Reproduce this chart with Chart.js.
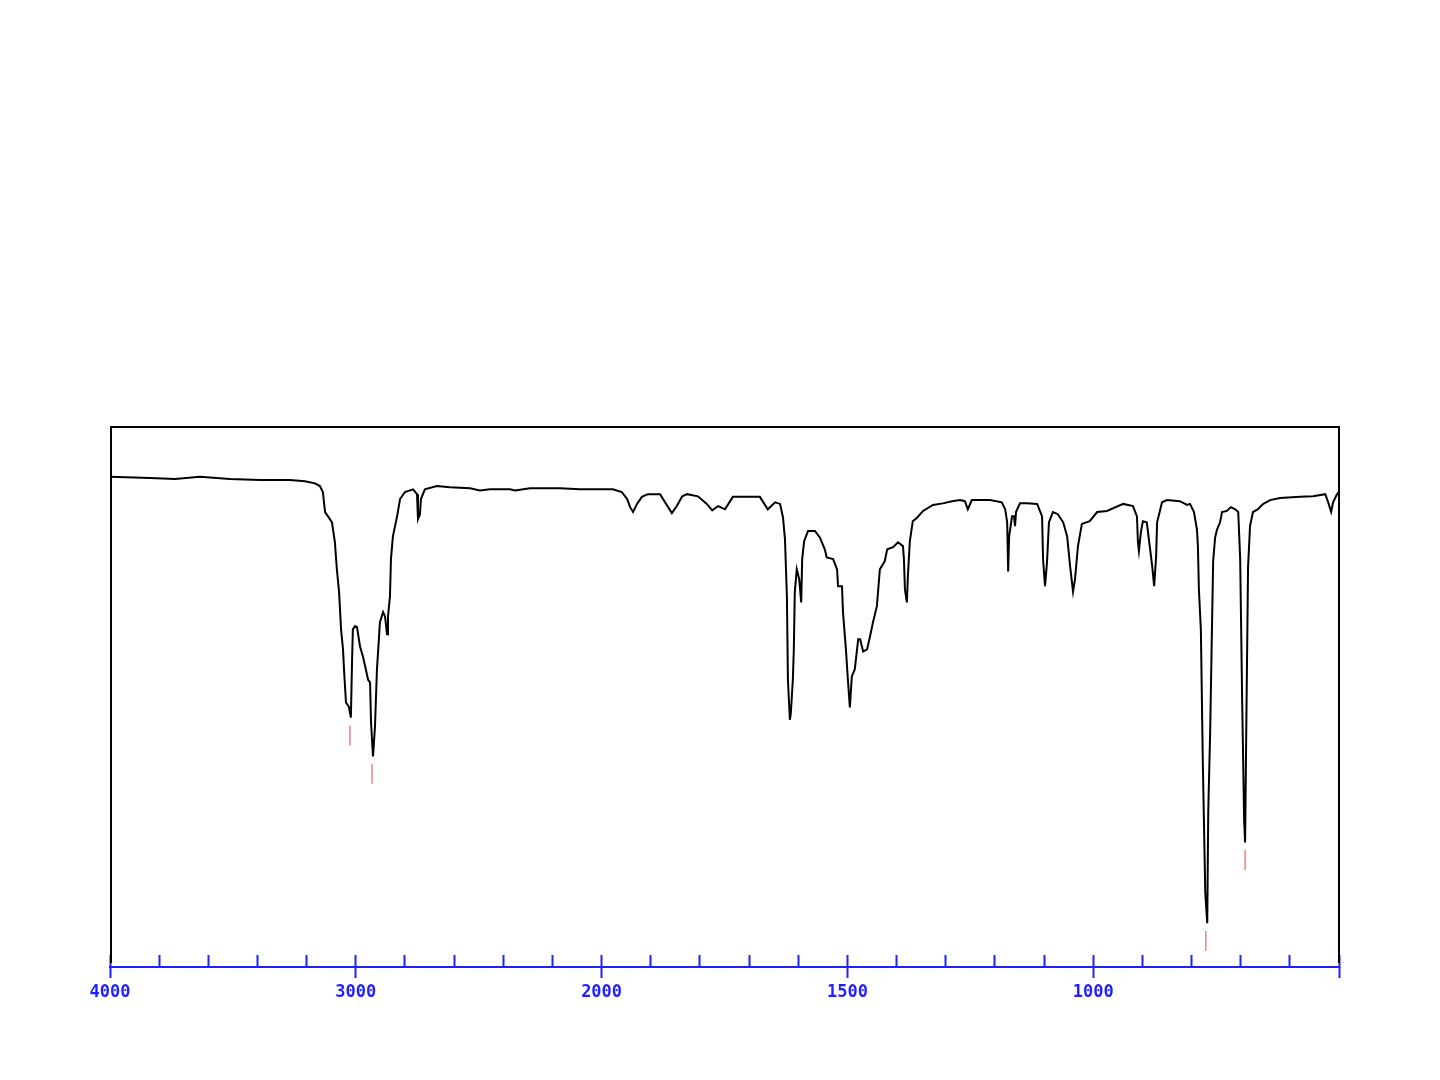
<!DOCTYPE html>
<html>
<head>
<meta charset="utf-8">
<script src="https://cdn.jsdelivr.net/npm/chart.js@4/dist/chart.umd.min.js"></script>
<style>
  html, body { margin: 0; padding: 0; background: #ffffff; }
  #wrap { width: 1440px; height: 1080px; }
</style>
</head>
<body>
<div id="wrap"><canvas id="c" width="1440" height="1080"></canvas></div>
<script>
// ---- Data (wavenumber in cm-1, transmittance in %) ----
const wavenumbers = [
  4000, 3837, 3736, 3634, 3512, 3390, 3268, 3207, 3166, 3146,
  3134, 3125, 3113, 3097, 3085, 3077, 3068, 3060, 3052, 3048,
  3040, 3028, 3020, 3016, 3012, 3003, 2995, 2983, 2971, 2959,
  2950, 2942, 2938, 2930, 2922, 2914, 2906, 2902, 2889, 2881,
  2873, 2869, 2861, 2857, 2849, 2832, 2820, 2800, 2767, 2751,
  2747, 2739, 2735, 2719, 2670, 2617, 2535, 2495, 2454, 2373,
  2352, 2291, 2169, 2088, 2000, 1977, 1959, 1948, 1942, 1936,
  1928, 1918, 1906, 1881, 1871, 1857, 1847, 1836, 1826, 1804,
  1786, 1775, 1763, 1749, 1733, 1704, 1678, 1662, 1647, 1637,
  1631, 1627, 1623, 1621, 1617, 1615, 1611, 1609, 1607, 1603,
  1598, 1594, 1592, 1588, 1580, 1566, 1556, 1546, 1542, 1529,
  1521, 1519, 1511, 1509, 1503, 1499, 1495, 1491, 1485, 1478,
  1474, 1468, 1460, 1454, 1448, 1440, 1434, 1424, 1419, 1407,
  1397, 1387, 1385, 1383, 1379, 1377, 1373, 1367, 1358, 1346,
  1326, 1306, 1287, 1271, 1261, 1255, 1247, 1210, 1186, 1179,
  1175, 1173, 1171, 1165, 1161, 1159, 1157, 1149, 1135, 1114,
  1104, 1102, 1098, 1094, 1090, 1082, 1072, 1061, 1053, 1047,
  1041, 1037, 1031, 1023, 1007, 992, 972, 939, 919, 911,
  909, 907, 903, 899, 891, 885, 880, 876, 872, 870,
  860, 850, 824, 809, 803, 795, 789, 787, 785, 781,
  777, 772, 768, 766, 762, 758, 756, 752, 748, 742,
  738, 728, 720, 711, 705, 701, 697, 693, 691, 689,
  685, 681, 675, 665, 654, 640, 620, 579, 553, 528,
  522, 516, 512, 504, 500
];
const transmittance = [
  90.6, 90.4, 90.2, 90.6, 90.2, 90.0, 90.0, 89.8, 89.4, 88.9,
  87.8, 84.1, 83.3, 82.2, 78.5, 73.5, 69.3, 62.4, 58.7, 55.0,
  48.9, 48.1, 46.1, 55.0, 62.4, 63.0, 62.8, 59.3, 57.4, 55.0,
  53.1, 52.6, 45.2, 38.9, 44.4, 55.0, 60.6, 63.7, 65.6, 64.8,
  61.5, 64.8, 68.5, 75.4, 79.6, 83.3, 86.5, 87.8, 88.3, 87.4,
  82.8, 83.7, 86.5, 88.3, 88.9, 88.7, 88.5, 88.1, 88.3, 88.3,
  88.1, 88.5, 88.5, 88.3, 88.3, 88.3, 87.8, 86.5, 85.0, 84.1,
  85.6, 86.9, 87.4, 87.4, 85.9, 83.9, 85.2, 87.0, 87.4, 87.0,
  85.6, 84.4, 85.2, 84.6, 86.9, 86.9, 86.9, 84.6, 85.9, 85.6,
  83.1, 79.1, 68.3, 53.1, 45.7, 47.0, 53.1, 58.7, 69.3, 73.5,
  71.7, 67.4, 75.4, 78.7, 80.6, 80.6, 79.4, 77.2, 75.7, 75.4,
  73.5, 70.4, 70.4, 65.6, 58.7, 53.1, 48.0, 53.7, 55.0, 60.6,
  60.6, 58.3, 58.7, 61.1, 63.7, 66.7, 73.5, 75.0, 77.2, 77.6,
  78.5, 77.8, 75.4, 69.8, 67.4, 72.2, 78.7, 82.4, 83.1, 84.3,
  85.4, 85.7, 86.1, 86.3, 86.1, 84.6, 86.3, 86.3, 85.9, 84.6,
  82.2, 73.1, 79.6, 83.3, 83.3, 81.5, 84.1, 85.7, 85.7, 85.6,
  83.3, 75.4, 70.4, 74.8, 82.2, 84.1, 83.7, 82.2, 79.6, 74.1,
  69.4, 71.7, 77.8, 81.9, 82.4, 84.1, 84.3, 85.6, 85.2, 83.3,
  78.5, 76.9, 80.4, 82.4, 82.2, 77.8, 74.1, 70.4, 75.9, 82.2,
  85.9, 86.3, 86.1, 85.4, 85.6, 84.1, 80.9, 77.8, 69.8, 62.4,
  37.8, 13.7, 8.1, 28.5, 43.9, 64.8, 75.0, 79.4, 80.9, 82.2,
  84.1, 84.3, 85.0, 84.6, 84.1, 75.4, 49.4, 27.2, 23.0, 40.7,
  73.9, 81.5, 84.1, 84.6, 85.6, 86.3, 86.7, 86.9, 87.0, 87.4,
  85.9, 84.1, 85.9, 87.4, 87.8
];
// peak markers (red ticks under the picked peaks)
const peakWavenumbers = [3024, 2934, 771, 691];
const peakMarkerLevels = [42.8, 35.7, 4.8, 19.8];
// axis labels
const labeledTicks = [4000, 3000, 2000, 1500, 1000];
const axisEnd = 500;

// ---- Axis transform: 4000-2000 compressed 2:1, 2000-500 linear ----
function wnToPos(wn) { return wn >= 2000 ? (4000 - wn) / 2 : 1000 + (2000 - wn); }
function posToWn(p) { return p <= 1000 ? 4000 - 2 * p : 3000 - p; }

const spectrumPoints = wavenumbers.map((w, i) => ({ x: wnToPos(w), y: transmittance[i] }));
const markerPoints = peakWavenumbers.map((w, i) => ({ x: wnToPos(w), y: peakMarkerLevels[i] }));

const BLUE = '#1f1fff';

const framePlugin = {
  id: 'frame',
  beforeDatasetsDraw(chart) {
    const { ctx, chartArea: a } = chart;
    ctx.save();
    ctx.strokeStyle = '#000000';
    ctx.lineWidth = 2;
    ctx.beginPath();
    ctx.moveTo(a.left + 1, a.bottom - 4);
    ctx.lineTo(a.left + 1, a.top + 1);
    ctx.lineTo(a.right, a.top + 1);
    ctx.lineTo(a.right, a.bottom - 4);
    ctx.stroke();
    ctx.restore();
  }
};

new Chart(document.getElementById('c'), {
  type: 'line',
  data: {
    datasets: [
      {
        label: 'Spectrum',
        data: spectrumPoints,
        borderColor: '#000000',
        borderWidth: 2,
        pointRadius: 0,
        tension: 0,
        fill: false
      },
      {
        label: 'Peaks',
        type: 'scatter',
        data: markerPoints,
        pointStyle: 'line',
        rotation: 90,
        radius: 10,
        borderColor: '#f08080',
        borderWidth: 1.5,
        showLine: false
      }
    ]
  },
  options: {
    responsive: false,
    animation: false,
    layout: { padding: { left: 110, right: 101, top: 426, bottom: 113 } },
    plugins: { legend: { display: false }, tooltip: { enabled: false } },
    scales: {
      y: { display: false, min: 0, max: 100 },
      x: {
        type: 'linear',
        position: { y: 0 },
        min: 0,
        max: 2500,
        ticks: { stepSize: 100, callback: () => '' },
        grid: { drawOnChartArea: false, tickLength: -13, tickColor: BLUE, tickWidth: 2 },
        border: { color: BLUE, width: 2 }
      },
      x2: {
        type: 'linear',
        axis: 'x',
        position: { y: 0 },
        min: 0,
        max: 2500,
        afterBuildTicks(scale) {
          scale.ticks = labeledTicks.concat([axisEnd]).map(w => ({ value: wnToPos(w) }));
        },
        ticks: {
          autoSkip: false,
          maxRotation: 0,
          padding: 4,
          color: BLUE,
          font: { family: 'DejaVu Sans Mono', size: 17, weight: 'bold' },
          callback: (v) => {
            const w = Math.round(posToWn(v));
            return labeledTicks.includes(w) ? String(w) : '';
          }
        },
        grid: { drawOnChartArea: false, tickLength: 11, tickColor: BLUE, tickWidth: 2 },
        border: { display: false }
      }
    }
  },
  plugins: [framePlugin]
});
</script>
</body>
</html>
